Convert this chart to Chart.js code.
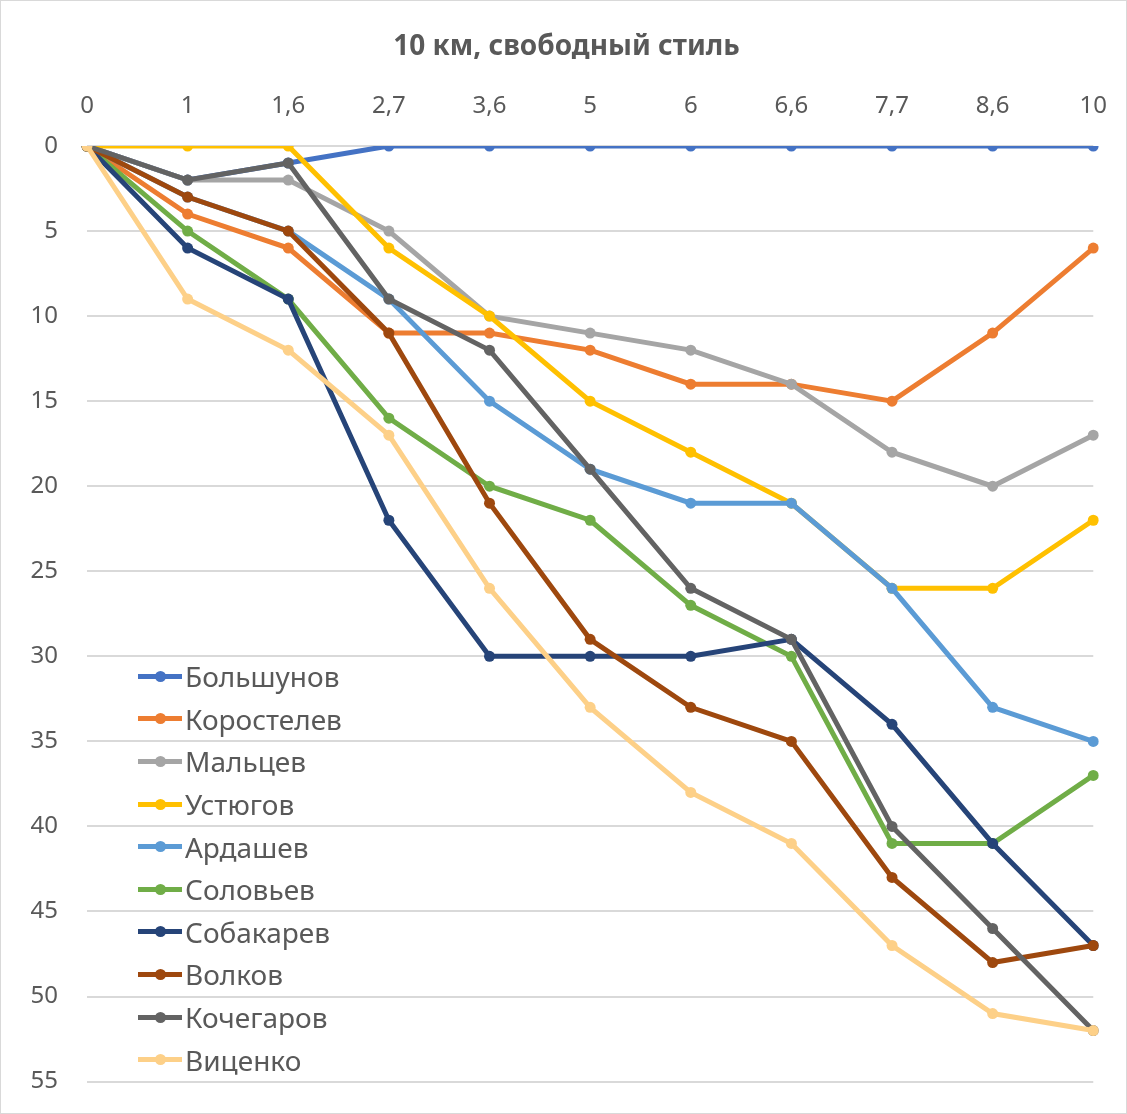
<!DOCTYPE html>
<html>
<head>
<meta charset="utf-8">
<script src="https://cdn.jsdelivr.net/npm/chart.js@4/dist/chart.umd.min.js"></script>
<style>
	html, body { margin: 0; padding: 0; background: #fff; }
	#wrap { position: relative; width: 1127px; height: 1114px; box-sizing: border-box; border: 1px solid #d9d9d9; overflow: hidden; }
	#chart { position: absolute; left: 0; top: 0; }
	#legend { position: absolute; left: 137px; top: 654px; font-family: 'Noto Sans', sans-serif; font-size: 28px; color: #595959; }
	.item { height: 42.6px; display: flex; align-items: center; }
	.mark { position: relative; width: 44px; height: 5px; margin-right: 3px; }
	.mark i { position: absolute; left: 17px; top: -3px; width: 11px; height: 11px; border-radius: 50%; }
</style>
</head>
<body>
<div id="wrap">
	<!-- canvas a bit larger than the frame: the scales reserve room for their outer labels -->
	<canvas id="chart" width="1131" height="1124"></canvas>
	<div id="legend"></div>
</div>
<script>
const splits = ['0', '1', '1,6', '2,7', '3,6', '5', '6', '6,6', '7,7', '8,6', '10']

const names = ['Большунов', 'Коростелев', 'Мальцев', 'Устюгов', 'Ардашев', 'Соловьев', 'Собакарев', 'Волков', 'Кочегаров', 'Виценко']
const colors = ['#4472C4', '#ED7D31', '#A5A5A5', '#FFC000', '#5B9BD5', '#70AD47', '#264478', '#9E480E', '#636363', '#FDD088']

const bolshunov = [0, 2, 1, 0, 0, 0, 0, 0, 0, 0, 0]
const korostelev = [0, 4, 6, 11, 11, 12, 14, 14, 15, 11, 6]
const maltsev = [0, 2, 2, 5, 10, 11, 12, 14, 18, 20, 17]
const ustyugov = [0, 0, 0, 6, 10, 15, 18, 21, 26, 26, 22]
const ardashev = [0, 3, 5, 9, 15, 19, 21, 21, 26, 33, 35]
const solovyev = [0, 5, 9, 16, 20, 22, 27, 30, 41, 41, 37]
const sobakarev = [0, 6, 9, 22, 30, 30, 30, 29, 34, 41, 47]
const volkov = [0, 3, 5, 11, 21, 29, 33, 35, 43, 48, 47]
const kochegarov = [0, 2, 1, 9, 12, 19, 26, 29, 40, 46, 52]
const vitsenko = [0, 9, 12, 17, 26, 33, 38, 41, 47, 51, 52]

const series = [bolshunov, korostelev, maltsev, ustyugov, ardashev, solovyev, sobakarev, volkov, kochegarov, vitsenko]

const font = "'Noto Sans', sans-serif"
const textColor = '#595959'

// later series are painted over earlier ones, like in the original
const datasets = series.map((data, i) => ({
	label: names[i],
	data: data,
	order: series.length - i,
	borderColor: colors[i],
	backgroundColor: colors[i],
	borderWidth: 5,
	pointRadius: 5.5,
	pointBorderWidth: 0,
	pointHoverRadius: 5.5,
	tension: 0,
	fill: false,
}))

const ctx = document.getElementById('chart').getContext('2d')
const chart = new Chart(ctx, {
	type: 'line',
	data: { labels: splits, datasets: datasets },
	options: {
		responsive: false,
		animation: false,
		layout: { autoPadding: false, padding: 0 },
		plugins: {
			legend: { display: false },
			tooltip: { enabled: false },
			title: {
				display: true,
				text: '10 км, свободный стиль',
				color: textColor,
				font: { family: font, size: 28, weight: 'bold' },
				padding: { top: 29, bottom: 10 },
			},
		},
		scales: {
			x: {
				position: 'top',
				offset: false,
				grid: { display: false, drawTicks: false },
				border: { display: false },
				ticks: { color: textColor, font: { family: font, size: 24 }, padding: 25, maxRotation: 0 },
				afterFit: scale => { scale.height = 72.4 },
			},
			y: {
				reverse: true,
				min: 0,
				max: 55,
				grid: { color: '#d9d9d9', lineWidth: 2, drawTicks: false },
				border: { display: false },
				ticks: { stepSize: 5, color: textColor, font: { family: font, size: 24 }, padding: 29 },
				afterFit: scale => { scale.width = 86 },
			},
		},
	},
})

const legend = document.getElementById('legend')
chart.data.datasets.forEach(ds => {
	const row = document.createElement('div')
	row.className = 'item'
	const mark = document.createElement('span')
	mark.className = 'mark'
	mark.style.background = ds.borderColor
	const dot = document.createElement('i')
	dot.style.background = ds.borderColor
	mark.appendChild(dot)
	const label = document.createElement('span')
	label.textContent = ds.label
	row.appendChild(mark)
	row.appendChild(label)
	legend.appendChild(row)
})
</script>
</body>
</html>
